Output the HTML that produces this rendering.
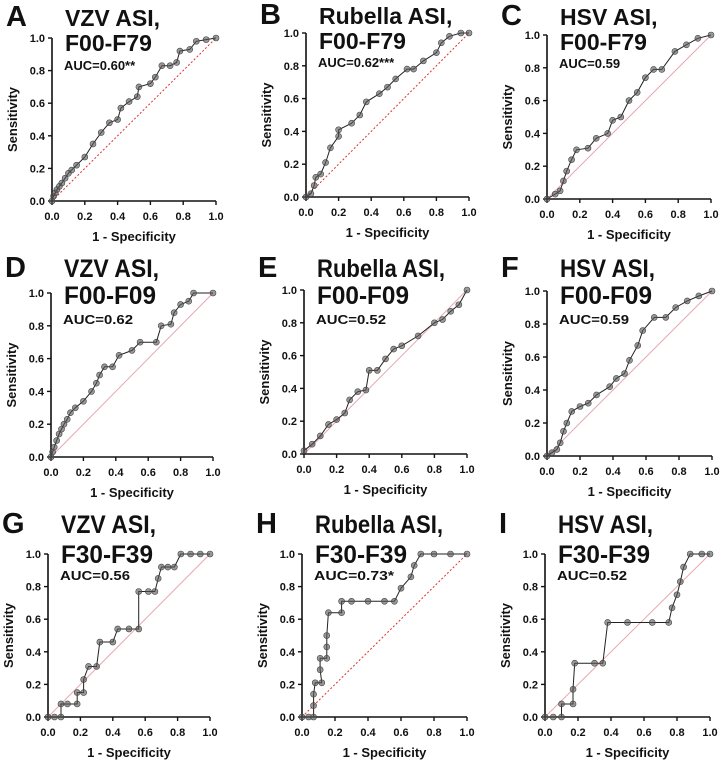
<!DOCTYPE html>
<html><head><meta charset="utf-8"><style>
html,body{margin:0;padding:0;background:#fff;}
svg{display:block;font-family:"Liberation Sans",Arial,sans-serif;}
</style></head><body>
<svg id="fig" width="720" height="762" xmlns="http://www.w3.org/2000/svg"></svg>
<script>
const ticks=[0,0.2,0.4,0.6,0.8,1.0];
const tickLabels=["0.0","0.2","0.4","0.6","0.8","1.0"];
const fprA=[0,0.01,0.02,0.03,0.045,0.06,0.08,0.1,0.12,0.15,0.2,0.25,0.3,0.35,0.4,0.42,0.47,0.52,0.53,0.6,0.63,0.67,0.72,0.76,0.78,0.84,0.88,0.94,1];
const tprA=[0,0.03,0.05,0.07,0.09,0.11,0.14,0.17,0.19,0.22,0.27,0.35,0.42,0.48,0.5,0.57,0.61,0.64,0.7,0.72,0.76,0.83,0.83,0.85,0.92,0.93,0.98,0.99,1];
const fprB=[0,0.03,0.05,0.06,0.09,0.12,0.15,0.2,0.2,0.28,0.33,0.37,0.45,0.5,0.55,0.62,0.66,0.72,0.8,0.83,0.88,0.95,1];
const tprB=[0,0.02,0.07,0.12,0.14,0.21,0.3,0.37,0.41,0.45,0.5,0.58,0.63,0.67,0.72,0.78,0.78,0.83,0.88,0.94,0.98,1,1];
const fprC=[0,0.05,0.08,0.1,0.12,0.15,0.18,0.25,0.3,0.37,0.4,0.45,0.5,0.55,0.6,0.65,0.7,0.78,0.85,0.92,1];
const tprC=[0,0.03,0.05,0.11,0.17,0.24,0.3,0.31,0.37,0.4,0.48,0.5,0.6,0.65,0.74,0.79,0.79,0.9,0.94,0.98,1];
const fprD=[0,0.01,0.02,0.035,0.05,0.065,0.08,0.1,0.12,0.15,0.2,0.25,0.28,0.3,0.33,0.38,0.42,0.5,0.55,0.65,0.68,0.74,0.76,0.8,0.85,0.88,1];
const tprD=[0,0.03,0.06,0.1,0.14,0.17,0.2,0.23,0.27,0.3,0.34,0.4,0.45,0.5,0.55,0.55,0.62,0.65,0.7,0.7,0.8,0.81,0.88,0.93,0.95,1,1];
const fprE=[0,0.05,0.1,0.15,0.2,0.25,0.28,0.33,0.38,0.4,0.45,0.5,0.55,0.6,0.7,0.8,0.85,0.9,0.95,1];
const tprE=[0.02,0.06,0.11,0.18,0.21,0.25,0.33,0.38,0.39,0.51,0.51,0.58,0.64,0.66,0.72,0.8,0.82,0.87,0.91,1];
const fprF=[0,0.03,0.06,0.08,0.1,0.12,0.15,0.2,0.25,0.3,0.38,0.42,0.47,0.5,0.55,0.58,0.65,0.72,0.78,0.85,0.92,1];
const tprF=[0,0.02,0.04,0.08,0.15,0.2,0.27,0.3,0.32,0.37,0.42,0.47,0.5,0.58,0.67,0.76,0.84,0.84,0.9,0.94,0.97,1];
const fprG=[0,0.04,0.08,0.08,0.12,0.18,0.18,0.22,0.22,0.25,0.3,0.32,0.4,0.43,0.5,0.56,0.56,0.62,0.66,0.68,0.7,0.74,0.78,0.82,0.88,0.94,1];
const tprG=[0,0,0,0.08,0.08,0.08,0.15,0.15,0.23,0.31,0.31,0.46,0.46,0.54,0.54,0.54,0.77,0.77,0.77,0.85,0.92,0.92,0.92,1,1,1,1];
const fprH=[0,0.04,0.07,0.07,0.07,0.08,0.12,0.11,0.11,0.15,0.15,0.15,0.16,0.24,0.24,0.3,0.4,0.5,0.56,0.6,0.66,0.68,0.72,0.8,0.9,1];
const tprH=[0,0,0,0.07,0.14,0.21,0.21,0.29,0.36,0.36,0.43,0.5,0.64,0.64,0.71,0.71,0.71,0.71,0.71,0.79,0.86,0.93,1,1,1,1];
const fprI=[0,0.05,0.1,0.1,0.17,0.17,0.18,0.3,0.35,0.38,0.5,0.65,0.75,0.77,0.8,0.82,0.84,0.88,0.95,1];
const tprI=[0,0,0,0.08,0.08,0.17,0.33,0.33,0.33,0.58,0.58,0.58,0.58,0.67,0.75,0.83,0.92,1,1,1];

const NS="http://www.w3.org/2000/svg";
const svg=document.getElementById('fig');
function mk(tag,attrs,parent){const e=document.createElementNS(NS,tag);for(const k in attrs)e.setAttribute(k,attrs[k]);(parent||svg).appendChild(e);return e;}

const panels=[
 {id:'a',L:'A',t1:'VZV ASI,',t2:'F00-F79',auc:'AUC=0.60**',x0:52,x1:216,y0:201,y1:38,fpr:fprA,tpr:tprA,red:true,ly:26,d2:25,d3:44,narrow:false},
 {id:'b',L:'B',t1:'Rubella ASI,',t2:'F00-F79',auc:'AUC=0.62***',x0:306,x1:469,y0:197,y1:33,fpr:fprB,tpr:tprB,red:true,ly:24,d2:25,d3:43,narrow:false},
 {id:'c',L:'C',t1:'HSV ASI,',t2:'F00-F79',auc:'AUC=0.59',x0:547,x1:711,y0:199,y1:35,fpr:fprC,tpr:tprC,red:false,ly:25,d2:25,d3:43,narrow:false},
 {id:'d',L:'D',t1:'VZV ASI,',t2:'F00-F09',auc:'AUC=0.62',x0:51,x1:213,y0:457,y1:293,fpr:fprD,tpr:tprD,red:false,ly:277,d2:27,d3:47,narrow:true},
 {id:'e',L:'E',t1:'Rubella ASI,',t2:'F00-F09',auc:'AUC=0.52',x0:304,x1:467,y0:454,y1:290,fpr:fprE,tpr:tprE,red:false,ly:277,d2:27,d3:47,narrow:true},
 {id:'f',L:'F',t1:'HSV ASI,',t2:'F00-F09',auc:'AUC=0.59',x0:547,x1:712,y0:456,y1:291,fpr:fprF,tpr:tprF,red:false,ly:277,d2:27,d3:47,narrow:true},
 {id:'g',L:'G',t1:'VZV ASI,',t2:'F30-F39',auc:'AUC=0.56',x0:48,x1:210,y0:717,y1:554,fpr:fprG,tpr:tprG,red:false,ly:533,d2:30,d3:47,narrow:true},
 {id:'h',L:'H',t1:'Rubella ASI,',t2:'F30-F39',auc:'AUC=0.73*',x0:302,x1:467,y0:717,y1:554,fpr:fprH,tpr:tprH,red:true,ly:533,d2:30,d3:47,narrow:true},
 {id:'i',L:'I',t1:'HSV ASI,',t2:'F30-F39',auc:'AUC=0.52',x0:545,x1:710,y0:717,y1:554,fpr:fprI,tpr:tprI,red:false,ly:533,d2:30,d3:47,narrow:true}
];

panels.forEach(p=>{
 const g=mk('g',{});
 
 
 const X=v=>p.x0+v*(p.x1-p.x0), Y=v=>p.y0-v*(p.y0-p.y1);
 const letter=mk('text',{x:p.x0-46,y:p.ly,'font-size':29,'font-weight':'bold',fill:'#111'},g);
 letter.textContent=p.L;
 
 
 const tx=p.x0+13;
 const fs=p.narrow?25:23;
 const t1=mk('text',{x:tx,y:p.ly,'font-size':fs,'font-weight':'bold',fill:'#111'},g);
 t1.textContent=p.t1;
 if(p.narrow){t1.setAttribute('textLength',p.t1.length>9?128:95);t1.setAttribute('lengthAdjust','spacingAndGlyphs');}
 
 
 const t2=mk('text',{x:tx,y:p.ly+p.d2,'font-size':fs,'font-weight':'bold',fill:'#111'},g);
 t2.textContent=p.t2;
 if(p.narrow){t2.setAttribute('textLength',92);t2.setAttribute('lengthAdjust','spacingAndGlyphs');}
 
 
 const au=mk('text',{x:tx-1,y:p.ly+p.d3,'font-size':13,'font-weight':'bold',fill:'#111'},g);
 au.textContent=p.auc;
 if(p.narrow){au.setAttribute('textLength',p.auc.length>8?80:70);au.setAttribute('lengthAdjust','spacingAndGlyphs');}
 
 
 const dg=mk('line',{x1:X(0),y1:Y(0),x2:X(1),y2:Y(1),stroke:p.red?'#e03030':'#e8a8b0','stroke-width':1,'stroke-dasharray':p.red?'2,2':'none'},g);
 
 
 const ax=mk('path',{d:`M${X(0)},${Y(1)}V${Y(0)}H${X(1)}`,stroke:'#111','stroke-width':1.6,fill:'none'},g);
 
 
 ticks.forEach((t,i)=>{
  mk('line',{x1:X(t),y1:Y(0),x2:X(t),y2:Y(0)+4,stroke:'#111','stroke-width':1.4},g);
  mk('line',{x1:X(0),y1:Y(t),x2:X(0)-4,y2:Y(t),stroke:'#111','stroke-width':1.4},g);
  const xl=mk('text',{x:X(t),y:Y(0)+19,'font-size':11,'font-weight':'bold','text-anchor':'middle',fill:'#111'},g);
  xl.textContent=tickLabels[i];
  
  
  const yl=mk('text',{x:X(0)-7,y:Y(t)+4,'font-size':11,'font-weight':'bold','text-anchor':'end',fill:'#111'},g);
  yl.textContent=tickLabels[i];
  
  
 });
 const xt=mk('text',{x:(X(0)+X(1))/2,y:Y(0)+40,'font-size':13,'font-weight':'bold','text-anchor':'middle',fill:'#111'},g);
 xt.textContent='1 - Specificity';
 
 
 const yc=(Y(0)+Y(1))/2, yx=X(0)-35;
 const yt=mk('text',{x:yx,y:yc,'font-size':13,'font-weight':'bold','text-anchor':'middle',fill:'#111',transform:`rotate(-90 ${yx} ${yc})`},g);
 yt.textContent='Sensitivity';
 
 
 const pts=p.fpr.map((v,i)=>X(v).toFixed(1)+','+Y(p.tpr[i]).toFixed(1)).join(' ');
 const ln=mk('polyline',{points:pts,fill:'none',stroke:'#222','stroke-width':1},g);
 
 
 p.fpr.forEach((v,i)=>{
  const c=mk('circle',{cx:X(v),cy:Y(p.tpr[i]),r:3,fill:'#555','fill-opacity':0.6,stroke:'#444','stroke-width':0.6},g);
  
  
 });
});
</script>
</body></html>
